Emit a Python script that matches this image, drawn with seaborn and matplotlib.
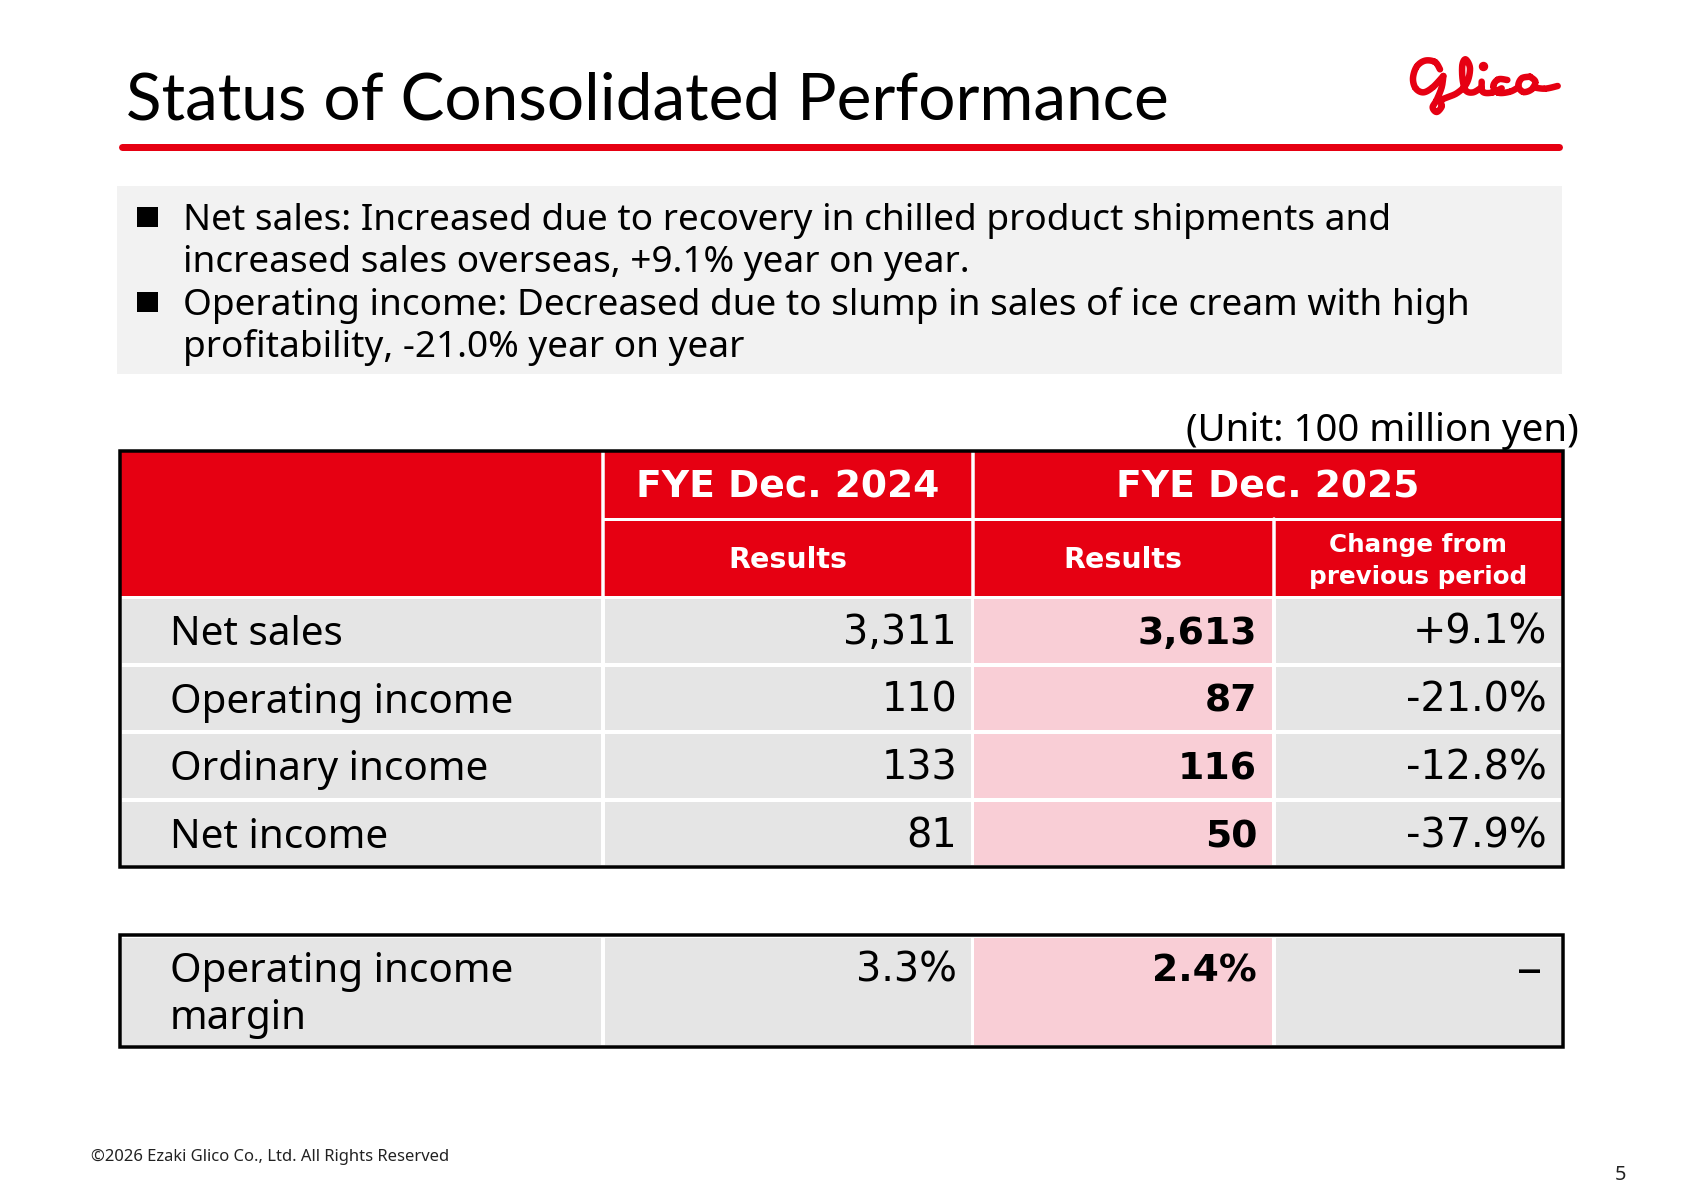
import numpy as np
import matplotlib
matplotlib.use("Agg")
import matplotlib.pyplot as plt
from matplotlib.colors import ListedColormap
from matplotlib.patches import Rectangle
import seaborn as sns

# ---- data ----
title = "Status of Consolidated Performance"
bullets = [
    ["Net sales: Increased due to recovery in chilled product shipments and",
     "increased sales overseas, +9.1% year on year."],
    ["Operating income: Decreased due to slump in sales of ice cream with high",
     "profitability, -21.0% year on year"],
]
unit = "(Unit: 100 million yen)"
metrics = ["Net sales", "Operating income", "Ordinary income", "Net income"]
results_2024 = [3311, 110, 133, 81]
results_2025 = [3613, 87, 116, 50]
changes = [9.1, -21.0, -12.8, -37.9]
margin_label = ["Operating income", "margin"]
margin_2024 = [3.3]
margin_2025 = [2.4]
periods = ["FYE Dec. 2024", "FYE Dec. 2025"]
sub_results = "Results"
sub_change = ["Change from", "previous period"]
footer = "\u00a92026 Ezaki Glico Co., Ltd. All Rights Reserved"
page = "5"

# ---- style ----
W, H, DPI = 1684, 1190, 100
RED, GREY, PINK = "#E60012", "#E5E5E5", "#F9CED6"
FONT = "Noto Sans"
NUM = "DejaVu Sans"
sns.set_theme(style="white")
plt.rcParams["font.family"] = [FONT, "DejaVu Sans"]
pt = lambda px: px * 72 / DPI

fig = plt.figure(figsize=(W / DPI, H / DPI), dpi=DPI, facecolor="white")

def px_axes(x0, y0, x1, y1, z=1):
    return fig.add_axes([x0 / W, 1 - y1 / H, (x1 - x0) / W, (y1 - y0) / H], zorder=z)

def column(values, color, x0, y0, x1, y1):
    a = px_axes(x0, y0, x1, y1)
    data = np.array(values, dtype=float).reshape(-1, 1)
    sns.heatmap(data, ax=a, cmap=ListedColormap([color]), cbar=False, xticklabels=False,
                yticklabels=False, linewidths=pt(3.5), linecolor="white")
    return a

# column edges (px)
X = [120, 602.5, 972.5, 1273.5, 1563]
T1, T2 = 597, 867
M1, M2 = 936, 1047
for (x0, x1), vals, col in zip(zip(X[:-1], X[1:]),
                               [results_2024, results_2024, results_2025, changes],
                               [GREY, GREY, PINK, GREY]):
    column(vals, col, x0, T1, x1, T2)
for (x0, x1), vals, col in zip(zip(X[:-1], X[1:]),
                               [margin_2024, margin_2024, margin_2025, margin_2024],
                               [GREY, GREY, PINK, GREY]):
    column(vals, col, x0, M1, x1, M2)

ov = px_axes(0, 0, W, H, z=5)
ov.set_xlim(0, W)
ov.set_ylim(H, 0)
ov.axis("off")
ov.patch.set_alpha(0)

# title + rule
ov.text(126, 119, title, fontsize=pt(65.8), family=["Lato", "DejaVu Sans"], color="black", va="baseline")
ov.plot([122, 1559], [147, 147], color=RED, lw=pt(7), solid_capstyle="round")

# logo drawn as a stroked curve
def spline(pts, n=14):
    p = np.array(pts, dtype=float) / 3 + np.array([1300, 0])
    p = np.vstack([p[0], p, p[-1]])
    out = []
    for i in range(1, len(p) - 2):
        for t in np.linspace(0, 1, n):
            out.append(0.5 * (2 * p[i] + (p[i + 1] - p[i - 1]) * t
                              + (2 * p[i - 1] - 5 * p[i] + 4 * p[i + 1] - p[i + 2]) * t ** 2
                              + (3 * p[i] - p[i - 1] - 3 * p[i + 1] + p[i + 2]) * t ** 3))
    return np.array(out)

strokes = [
    [(420, 208), (405, 186), (375, 182), (350, 200), (339, 235), (347, 265), (370, 277), (398, 262), (430, 228)],
    [(430, 228), (425, 262), (410, 300), (398, 322), (410, 336), (425, 320), (425, 300), (470, 280), (500, 250),
     (510, 205), (497, 178), (487, 195), (488, 240), (498, 272), (520, 277), (545, 262)],
    [(545, 245), (548, 275), (575, 278), (605, 265)],
    [(622, 240), (595, 238), (580, 258), (595, 278), (630, 275), (655, 262)],
    [(690, 230), (665, 235), (655, 258), (670, 276), (695, 268), (706, 245), (690, 230)],
    [(700, 262), (735, 266), (773, 258)],
]
for s in strokes:
    c = spline(s)
    ov.plot(c[:, 0], c[:, 1], color=RED, lw=pt(6.5), solid_capstyle="round", solid_joinstyle="round")
ov.plot([1300 + 548 / 3], [197 / 3], marker="o", ms=pt(8), color=RED)

# bullet box
ov.add_patch(Rectangle((117, 186), 1445, 188, color="#F2F2F2", lw=0, zorder=0))
FS = pt(37)
baselines = [230, 272, 315, 357]
k = 0
for group in bullets:
    ov.add_patch(Rectangle((137, baselines[k] - 23), 21, 20, color="black", lw=0))
    for line in group:
        ov.text(183, baselines[k], line, fontsize=FS, color="black", va="baseline")
        k += 1
ov.text(1579, 441, unit, fontsize=pt(38.4), color="black", ha="right", va="baseline")

# table header
ov.add_patch(Rectangle((X[0], 451), X[4] - X[0], T1 - 451 - 1, color=RED, lw=0))
ov.plot([X[1]] * 2, [451, T1], color="white", lw=pt(3.5))
ov.plot([X[2]] * 2, [451, T1], color="white", lw=pt(3.5))
ov.plot([X[3]] * 2, [519, T1], color="white", lw=pt(3.5))
ov.plot([X[1], X[4]], [519, 519], color="white", lw=pt(3))
hdr = dict(color="white", family="DejaVu Sans", fontweight="bold", ha="center", va="baseline")
ov.text((X[1] + X[2]) / 2, 497, periods[0], fontsize=pt(37.6), **hdr)
ov.text((X[2] + X[4]) / 2, 497, periods[1], fontsize=pt(37.6), **hdr)
ov.text((X[1] + X[2]) / 2, 568, sub_results, fontsize=pt(28.5), **hdr)
ov.text((X[2] + X[3]) / 2, 568, sub_results, fontsize=pt(28.5), **hdr)
ov.text((X[3] + X[4]) / 2, 552, sub_change[0], fontsize=pt(24.6), **hdr)
ov.text((X[3] + X[4]) / 2, 584, sub_change[1], fontsize=pt(24.6), **hdr)

# table body
FB = pt(40.4)
FN = pt(39.8)
FK = pt(37.7)
num = dict(family=NUM, color="black", ha="right", va="baseline")
rows_y = [645, 713, 780, 848]
for y, m, a, b, c in zip(rows_y, metrics, results_2024, results_2025, changes):
    ov.text(170, y, m, fontsize=FB, color="black", va="baseline")
    ov.text(957, y - 1, f"{a:,}", fontsize=FN, **num)
    ov.text(1257, y - 1, f"{b:,}", fontsize=FK, fontweight="bold", **num)
    ov.text(1547, y - 1, f"{c:+.1f}%", fontsize=FN, **num)

ov.text(170, 982, margin_label[0], fontsize=FB, color="black", va="baseline")
ov.text(170, 1029, margin_label[1], fontsize=FB, color="black", va="baseline")
ov.text(957, 982, f"{margin_2024[0]:.1f}%", fontsize=FN, **num)
ov.text(1257, 982, f"{margin_2025[0]:.1f}%", fontsize=FK, fontweight="bold", **num)
ov.text(1542, 984, "\u2013", fontsize=pt(50), family=FONT, color="black", ha="right", va="baseline")

# table borders
for y0, y1 in [(451, T2), (M1 - 1, M2)]:
    ov.add_patch(Rectangle((X[0], y0), X[4] - X[0], y1 - y0, fill=False, ec="black", lw=pt(3.5), zorder=6))

# footer
ov.text(91, 1161, footer, fontsize=pt(16.6), color="#222222", va="baseline")
ov.text(1626, 1180, page, fontsize=pt(20), color="#222222", ha="right", va="baseline")

fig.savefig("out.png", dpi=DPI)
